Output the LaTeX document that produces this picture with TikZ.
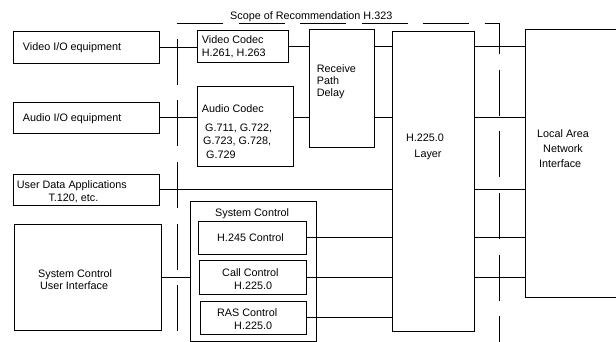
\documentclass[tikz,border=0pt]{standalone}
\usepackage{fontspec}
\setmainfont{Liberation Sans}
\begin{document}
\begin{tikzpicture}[x=1pt,y=-1pt,
  box/.style={draw=black,line width=0.9pt,inner sep=0pt,outer sep=0pt,anchor=north west},
  txt/.style={inner sep=0pt,anchor=west,text height=7.7pt,text depth=0pt,font=\fontsize{10.8pt}{12pt}\selectfont},
  ctxt/.style={txt,anchor=center},
  wire/.style={draw=black,line width=0.9pt},
  scopeline/.style={draw=black,line width=0.9pt,dash pattern=on 46pt off 15.5pt}]
\useasboundingbox (0,0) rectangle (616,342);
\clip (0,0) rectangle (616,342);
\fill[white] (0,0) rectangle (616,342);
% boxes
\node[box,minimum width=146pt,minimum height=32pt] (vio) at (13,31) {};
\node[box,minimum width=146pt,minimum height=31pt] (aio) at (13,102) {};
\node[box,minimum width=91pt,minimum height=32pt] (vc) at (197,30) {};
\node[box,minimum width=96pt,minimum height=80pt] (ac) at (197,86) {};
\node[box,minimum width=65pt,minimum height=118pt] (rpd) at (309,29) {};
\node[box,minimum width=82pt,minimum height=300pt] (h225) at (392,31) {};
\node[box,minimum width=110pt,minimum height=268pt] (lan) at (525,29) {};
\node[box,minimum width=146pt,minimum height=31pt] (uda) at (13,174) {};
\node[box,minimum width=126pt,minimum height=140pt] (sc) at (190,201) {};
\node[box,minimum width=108pt,minimum height=33pt] (h245) at (198,221) {};
\node[box,minimum width=107pt,minimum height=34pt] (call) at (199,260) {};
\node[box,minimum width=106pt,minimum height=33pt] (ras) at (200,301) {};
\node[box,minimum width=147pt,minimum height=106pt] (scui) at (14,224) {};
% scope of recommendation
\coordinate (stl) at (177,23);
\coordinate (str) at (499,23);
\coordinate (sbr) at (499,342);
\coordinate (slt) at (177,39);
\coordinate (slb) at (177,342);
\draw[scopeline] (stl) -- (str) -- (sbr);
\draw[scopeline] (slt) -- (slb);
\node[txt] (scopetxt) at (230,15.5) {Scope of Recommendation H.323};
% texts
\node[txt] (t1) at (22.7,47) {Video I/O equipment};
\node[txt] (t2) at (22.7,117.5) {Audio I/O equipment};
\node[txt] (t3) at (201.7,39.5) {Video Codec};
\node[txt] (t4) at (201.7,52.5) {H.261, H.263};
\node[txt] (t5) at (201.7,109) {Audio Codec};
\node[txt] (t6) at (205,128) {G.711, G.722,};
\node[txt] (t7) at (203,141) {G.723, G.728,};
\node[txt] (t8) at (206,155) {G.729};
\node[txt] (t9) at (316.7,69) {Receive};
\node[txt] (t10) at (316.7,81) {Path};
\node[txt] (t11) at (316.7,92.5) {Delay};
\node[ctxt] (t12) at (425,138) {H.225.0};
\node[ctxt] (t13) at (428,154) {Layer};
\node[txt] (t14) at (537,133.5) {Local Area};
\node[txt] (t15) at (543,148.5) {Network};
\node[txt] (t16) at (539,163.5) {Interface};
\node[txt] (t17) at (16.7,184.5) {User Data Applications};
\node[txt] (t18) at (48.3,197.7) {T.120, etc.};
\node[txt] (t19) at (215,213) {System Control};
\node[txt] (t20) at (217,237.7) {H.245 Control};
\node[txt] (t21) at (222,273) {Call Control};
\node[txt] (t22) at (234,286) {H.225.0};
\node[txt] (t23) at (217,312.5) {RAS Control};
\node[txt] (t24) at (234,326) {H.225.0};
\node[txt] (t25) at (38,274) {System Control};
\node[txt] (t26) at (40,285.5) {User Interface};
% connectors
\draw[wire] (vio.east) -- (vio.east -| vc.west);
\draw[wire] (vc.east) -- (vc.east -| rpd.west);
\draw[wire] (rpd.east |- vc.east) -- (h225.west |- vc.east);
\draw[wire] (h225.east |- vc.east) -- (lan.west |- vc.east);
\draw[wire] (aio.east) -- (aio.east -| ac.west);
\draw[wire] (ac.east |- aio.east) -- (rpd.west |- aio.east);
\draw[wire] (rpd.east |- aio.east) -- (h225.west |- aio.east);
\draw[wire] (h225.east |- aio.east) -- (lan.west |- aio.east);
\draw[wire] (uda.east) -- (uda.east -| h225.west);
\draw[wire] (h225.east |- uda.east) -- (lan.west |- uda.east);
\draw[wire] (h245.east) -- (h245.east -| h225.west);
\draw[wire] (h225.east |- h245.east) -- (lan.west |- h245.east);
\draw[wire] (call.east) -- (call.east -| h225.west);
\draw[wire] (h225.east |- call.east) -- (lan.west |- call.east);
\draw[wire] (ras.east) -- (ras.east -| h225.west);
\draw[wire] (scui.east) -- (scui.east -| sc.west);
\end{tikzpicture}
\end{document}
